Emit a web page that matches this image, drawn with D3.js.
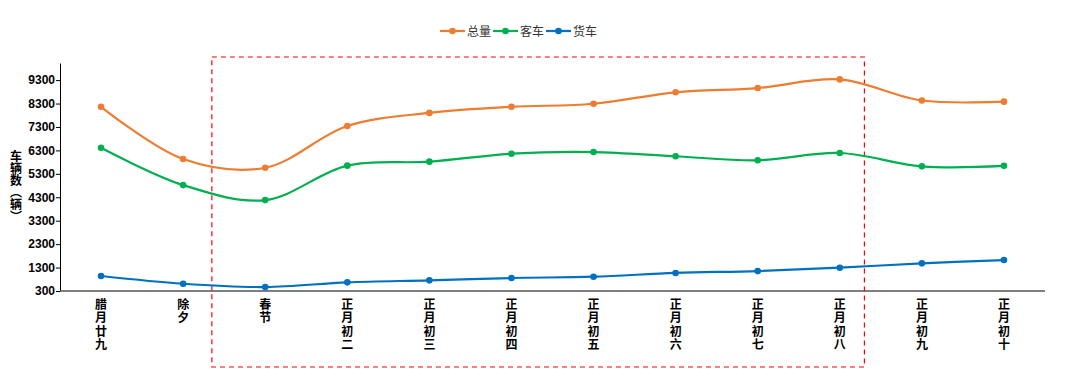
<!DOCTYPE html>
<html>
<head>
<meta charset="utf-8">
<script src="https://cdn.jsdelivr.net/npm/d3@7"></script>
<style>
  body { margin: 0; background: #fff; }
  svg { font-family: "Noto Sans CJK SC", "Liberation Sans", sans-serif; }
</style>
</head>
<body>
<svg width="1080" height="378"></svg>
<script>
var days = ["腊月廿九", "除夕", "春节", "正月初二", "正月初三", "正月初四", "正月初五", "正月初六", "正月初七", "正月初八", "正月初九", "正月初十"];
var zongliang = [8160, 5930, 5560, 7340, 7900, 8160, 8290, 8780, 8960, 9330, 8430, 8380];
var keche = [6410, 4820, 4180, 5650, 5820, 6160, 6230, 6050, 5880, 6190, 5620, 5640];
var huoche = [940, 610, 470, 670, 755, 855, 910, 1070, 1150, 1295, 1480, 1620];
var yTicks = [300, 1300, 2300, 3300, 4300, 5300, 6300, 7300, 8300, 9300];
var seriesNames = ["总量", "客车", "货车"];
var colors = ["#ed7d31", "#00b050", "#0070c0"];

var svg = d3.select("svg");
var mLeft = 60, mRight = 1045, mTop = 63, mBottom = 291;

var x = d3.scalePoint().domain(days).range([mLeft, mRight]).padding(0.5);
var y = d3.scaleLinear().domain([300, 10030]).range([mBottom, mTop]);

// y axis
var yAxis = svg.append("g").attr("transform", "translate(" + mLeft + ",0)")
  .call(d3.axisLeft(y).tickValues(yTicks).tickFormat(d3.format("d")).tickSize(4).tickSizeOuter(0));
yAxis.select(".domain").attr("stroke", "#000");
yAxis.selectAll(".tick line").attr("stroke", "#000");
yAxis.selectAll("text").attr("font-size", 12).attr("font-weight", "bold")
  .attr("font-family", "'Liberation Sans', Arial, sans-serif").attr("fill", "#000").attr("dx", 2);

// x axis line
svg.append("line").attr("x1", mLeft).attr("x2", mRight).attr("y1", mBottom).attr("y2", mBottom)
  .attr("stroke", "#555").attr("stroke-width", 1.5);

// x labels, vertical
svg.append("g").selectAll("text").data(days).join("text")
  .attr("x", function(d) { return x(d); })
  .attr("y", mBottom + 7)
  .style("writing-mode", "vertical-rl")
  .style("text-orientation", "upright")
  .attr("font-size", 12).attr("font-weight", "bold")
  .attr("letter-spacing", 1.5)
  .attr("fill", "#000")
  .text(function(d) { return d; });

// y title
svg.append("text")
  .attr("x", 16).attr("y", 150)
  .style("writing-mode", "vertical-rl")
  .style("text-orientation", "upright")
  .attr("font-size", 12).attr("font-weight", "bold")
  .attr("fill", "#000")
  .text("车辆数（辆）");

// dashed box
var step = x.step();
svg.append("rect")
  .attr("x", x("春节") - 0.65 * step)
  .attr("y", 57)
  .attr("width", (x("正月初八") + 0.3 * step) - (x("春节") - 0.65 * step))
  .attr("height", 310)
  .attr("fill", "none").attr("stroke", "#ff0000").attr("stroke-width", 1.2)
  .attr("stroke-dasharray", "5,4");

// lines
var all = [zongliang, keche, huoche];
var line = d3.line()
  .x(function(d, i) { return x(days[i]); })
  .y(function(d) { return y(d); })
  .curve(d3.curveCatmullRom.alpha(0.5));

all.forEach(function(vals, k) {
  svg.append("path").datum(vals)
    .attr("d", line)
    .attr("fill", "none").attr("stroke", colors[k]).attr("stroke-width", 2.2);
  svg.append("g").selectAll("circle").data(vals).join("circle")
    .attr("cx", function(d, i) { return x(days[i]); })
    .attr("cy", function(d) { return y(d); })
    .attr("r", 3.3).attr("fill", colors[k]);
});

// legend
var lx = [440, 493, 546];
var legend = svg.append("g").selectAll("g").data(seriesNames).join("g")
  .attr("transform", function(d, i) { return "translate(" + lx[i] + ",31)"; });
legend.append("line").attr("x1", 0).attr("x2", 25)
  .attr("stroke", function(d, i) { return colors[i]; }).attr("stroke-width", 2.2);
legend.append("circle").attr("cx", 12.5).attr("r", 3.3)
  .attr("fill", function(d, i) { return colors[i]; });
legend.append("text").attr("x", 27).attr("y", 4.5)
  .attr("font-size", 12).attr("fill", "#333")
  .text(function(d) { return d; });
</script>
</body>
</html>
